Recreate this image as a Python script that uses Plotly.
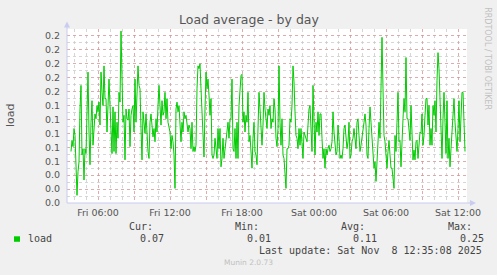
import pandas as pd
import plotly.graph_objects as go

# ---- data (5-minute load average) ----
load_values = [
    0.074, 0.090, 0.081, 0.107, 0.097, 0.035, 0.011, 0.045, 0.059, 0.135, 0.169, 0.069, 0.078, 0.033, 0.078,
    0.071, 0.150, 0.188, 0.102, 0.055, 0.116, 0.147, 0.083, 0.102, 0.128, 0.121, 0.140, 0.131, 0.145, 0.112,
    0.188, 0.159, 0.140, 0.197, 0.150, 0.150, 0.102, 0.140, 0.178, 0.140, 0.088, 0.071, 0.138, 0.074, 0.131,
    0.071, 0.116, 0.093, 0.159, 0.145, 0.247, 0.159, 0.116, 0.126, 0.062, 0.135, 0.121, 0.119, 0.135, 0.081,
    0.126, 0.135, 0.140, 0.102, 0.178, 0.116, 0.171, 0.197, 0.169, 0.164, 0.107, 0.062, 0.131, 0.116, 0.100,
    # segment 2
    0.128, 0.093, 0.074, 0.064, 0.116, 0.128, 0.116, 0.095, 0.107, 0.088, 0.121, 0.102, 0.140, 0.169, 0.140,
    0.112, 0.147, 0.126, 0.131, 0.159, 0.121, 0.150, 0.116, 0.109, 0.102, 0.078, 0.097, 0.088, 0.069, 0.021,
    0.135, 0.145, 0.131, 0.140, 0.121, 0.088, 0.116, 0.102, 0.131, 0.121, 0.126, 0.112, 0.102, 0.112, 0.107,
    0.078, 0.116, 0.074, 0.081, 0.074, 0.083, 0.164, 0.197, 0.193, 0.200, 0.164, 0.135, 0.088, 0.066, 0.135,
    0.188, 0.164, 0.178, 0.155, 0.126, 0.150, 0.069, 0.064, 0.069, 0.093, 0.076, 0.064, 0.107, 0.078, 0.107,
    0.052, 0.064, 0.093, 0.064, 0.076,
    # segment 3
    0.093, 0.107, 0.116, 0.093, 0.121, 0.121, 0.178, 0.078, 0.074, 0.107, 0.064, 0.116, 0.064, 0.140, 0.164,
    0.183, 0.185, 0.116, 0.131, 0.102, 0.126, 0.116, 0.159, 0.088, 0.097, 0.064, 0.050, 0.093, 0.116, 0.074,
    0.069, 0.055, 0.102, 0.159, 0.135, 0.102, 0.083, 0.112, 0.159, 0.135, 0.116, 0.107, 0.135, 0.126, 0.140,
    0.107, 0.121, 0.116, 0.150, 0.135, 0.093, 0.081, 0.107, 0.197, 0.116, 0.083, 0.121, 0.069, 0.064, 0.040,
    0.021, 0.078, 0.078, 0.083, 0.121, 0.116, 0.140, 0.197, 0.174, 0.131, 0.097, 0.093, 0.078, 0.107, 0.083,
    0.107, 0.078, 0.064, 0.102, 0.097,
    # segment 4
    0.093, 0.088, 0.112, 0.135, 0.140, 0.116, 0.074, 0.169, 0.107, 0.069, 0.116, 0.102, 0.131, 0.097, 0.128,
    0.128, 0.093, 0.064, 0.078, 0.050, 0.078, 0.069, 0.078, 0.083, 0.074, 0.078, 0.088, 0.131, 0.102, 0.078,
    0.069, 0.074, 0.112, 0.093, 0.064, 0.069, 0.064, 0.078, 0.107, 0.112, 0.093, 0.078, 0.088, 0.116, 0.064,
    0.069, 0.088, 0.093, 0.107, 0.090, 0.078, 0.116, 0.121, 0.097, 0.074, 0.083, 0.097, 0.107, 0.116, 0.128,
    0.112, 0.069, 0.064, 0.107, 0.138, 0.116, 0.093, 0.059, 0.050, 0.059, 0.031, 0.059, 0.088, 0.116, 0.093,
    0.155, 0.238, 0.164, 0.097, 0.088,
    # segment 5
    0.059, 0.050, 0.074, 0.090, 0.069, 0.050, 0.050, 0.035, 0.021, 0.097, 0.074, 0.116, 0.159, 0.088, 0.090,
    0.052, 0.078, 0.121, 0.150, 0.131, 0.209, 0.121, 0.121, 0.107, 0.090, 0.140, 0.088, 0.062, 0.076, 0.062,
    0.088, 0.090, 0.064, 0.078, 0.102, 0.100, 0.128, 0.083, 0.097, 0.126, 0.150, 0.150, 0.112, 0.140, 0.083,
    0.107, 0.083, 0.140, 0.126, 0.147, 0.102, 0.176, 0.216, 0.193, 0.140, 0.107, 0.064, 0.121, 0.159, 0.116,
    0.071, 0.147, 0.064, 0.093, 0.052, 0.078, 0.102, 0.131, 0.150, 0.116, 0.093, 0.074, 0.107, 0.147, 0.088,
    0.131, 0.159, 0.159, 0.121, 0.074,
]
last_sample = "2025-11-08 12:35"
range_start = "2025-11-07 03:25"
range_end = "2025-11-08 12:45"

x_major_ticks = pd.date_range("2025-11-07 06:00", "2025-11-08 12:00", freq="3h")
x_label_hours = {0, 6, 12, 18}
y_ticks = [0.00, 0.02, 0.04, 0.06, 0.08, 0.10, 0.12, 0.14, 0.16, 0.18, 0.20, 0.22, 0.24]

legend_headers = ["Cur:", "Min:", "Avg:", "Max:"]
legend_values = ["0.07", "0.01", "0.11", "0.25"]
series_name = "load"
title_text = "Load average - by day"
last_update = "Last update: Sat Nov\u00a0\u00a08 12:35:08 2025"

times = pd.date_range(end=last_sample, periods=len(load_values), freq="5min")

# ---- layout geometry (pixels) ----
W, H = 497, 275
L, R, T, B = 67, 467, 28.5, 203.5


def px(x):
    return (x - L) / (R - L)


def py(y):
    return (B - y) / (B - T)


fig = go.Figure()
fig.add_trace(go.Scatter(x=times, y=load_values, mode="lines",
                         line=dict(color="#00cc00", width=1), hoverinfo="skip"))

tick_text = [f"{t:%a %H:%M}" if t.hour in x_label_hours else "" for t in x_major_ticks]

grid_red = "rgba(225,140,140,0.55)"
grid_gray = "rgba(200,200,200,0.75)"
tick_font = dict(family="DejaVu Sans", size=9.5, color="#555555")
mono = "DejaVu Sans Mono"

fig.update_layout(
    width=W, height=H,
    margin=dict(l=L, r=W - R, t=T, b=H - B, pad=0),
    paper_bgcolor="#f0f0f0", plot_bgcolor="#ffffff",
    showlegend=False,
    xaxis=dict(
        type="date", range=[range_start, range_end],
        tickvals=list(x_major_ticks), ticktext=tick_text,
        showgrid=True, gridcolor=grid_red, griddash="dot", gridwidth=1,
        minor=dict(dtick=3600000, showgrid=True, gridcolor=grid_gray, griddash="dot", gridwidth=1),
        showline=False, zeroline=False, ticks="", tickfont=tick_font, ticklabelstandoff=2,
    ),
    yaxis=dict(
        range=[0, 0.25], tickvals=y_ticks, ticktext=[f"{v:.1f}" for v in y_ticks],
        showgrid=True, gridcolor=grid_red, griddash="dot", gridwidth=1,
        minor=dict(dtick=0.01, tick0=0, showgrid=True, gridcolor=grid_gray, griddash="dot", gridwidth=1),
        showline=False, zeroline=False, ticks="", tickfont=tick_font, ticklabelstandoff=6,
        title=None,
    ),
)

axis_col = "#c8ccf0"
# axis lines with arrows
fig.add_shape(type="line", xref="paper", yref="paper", x0=0, x1=0, y0=0, y1=py(24),
              line=dict(color=axis_col, width=1))
fig.add_shape(type="line", xref="paper", yref="paper", x0=0, x1=px(472), y0=0, y1=0,
              line=dict(color=axis_col, width=1))
fig.add_shape(type="path", xref="paper", yref="paper",
              path=f"M {px(64)} {py(27)} L {px(70)} {py(27)} L {px(67)} {py(21)} Z",
              fillcolor=axis_col, line=dict(width=0))
fig.add_shape(type="path", xref="paper", yref="paper",
              path=f"M {px(470)} {py(200.5)} L {px(470)} {py(206.5)} L {px(476)} {py(203.5)} Z",
              fillcolor=axis_col, line=dict(width=0))

ann = []
ann.append(dict(text=title_text, x=px(248.5), y=py(19), xref="paper", yref="paper",
                xanchor="center", yanchor="middle", showarrow=False,
                font=dict(family="DejaVu Sans", size=12.5, color="#555555")))
ann.append(dict(text="load", x=px(10), y=py(115), xref="paper", yref="paper", textangle=-90,
                xanchor="center", yanchor="middle", showarrow=False,
                font=dict(family="DejaVu Sans", size=11, color="#555555")))
ann.append(dict(text="RRDTOOL / TOBI OETIKER", x=px(488), y=py(5), xref="paper", yref="paper",
                textangle=90, xanchor="center", yanchor="top", showarrow=False,
                font=dict(family="DejaVu Sans", size=8, color="#c0c0c0")))

head_x = [128, 234, 340, 447]
val_x = [139, 246, 352, 459]
for hx, vx, h, v in zip(head_x, val_x, legend_headers, legend_values):
    ann.append(dict(text=h, x=px(hx), y=py(227), xref="paper", yref="paper",
                    xanchor="left", yanchor="middle", showarrow=False,
                    font=dict(family=mono, size=10, color="#444444")))
    ann.append(dict(text=v, x=px(vx), y=py(239.5), xref="paper", yref="paper",
                    xanchor="left", yanchor="middle", showarrow=False,
                    font=dict(family=mono, size=10, color="#444444")))
ann.append(dict(text=series_name, x=px(26.5), y=py(239.5), xref="paper", yref="paper",
                xanchor="left", yanchor="middle", showarrow=False,
                font=dict(family=mono, size=10, color="#444444")))
ann.append(dict(text=last_update, x=px(483), y=py(251.5), xref="paper", yref="paper",
                xanchor="right", yanchor="middle", showarrow=False,
                font=dict(family=mono, size=10, color="#444444")))
ann.append(dict(text="Munin 2.0.73", x=px(248), y=py(263.5), xref="paper", yref="paper",
                xanchor="center", yanchor="middle", showarrow=False,
                font=dict(family="DejaVu Sans", size=7.5, color="#c0c0c0")))
for a in ann:
    a["borderpad"] = 0
fig.update_layout(annotations=ann)

fig.add_shape(type="rect", xref="paper", yref="paper", x0=px(14), x1=px(20), y0=py(242.5), y1=py(237),
              fillcolor="#00cc00", line=dict(width=0))

fig.write_html("out.html")
